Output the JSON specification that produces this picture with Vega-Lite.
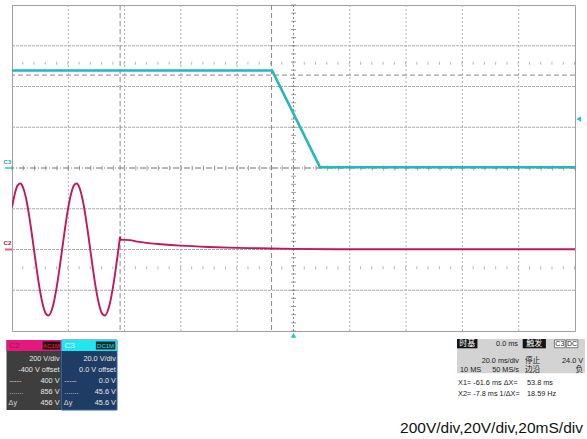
{
"$schema": "https://vega.github.io/schema/vega-lite/v6.json",
"width": 563,
"height": 326,
"autosize": {"type": "none"},
"padding": {"left": 12, "top": 5, "right": 12, "bottom": 108},
"background": "#ffffff",
"config": {"view": {"stroke": "#a0a0a0", "strokeWidth": 1}},
"resolve": {"scale": {"y": "independent"}},
"layer": [
{
"layer": [
{"data": {"values": [{"t":-80},{"t":-60},{"t":-40},{"t":-20},{"t":20},{"t":40},{"t":60},{"t":80}]},
 "mark": {"type": "rule", "color": "#b0b0b0", "strokeWidth": 1, "strokeDash": [2, 2]},
 "encoding": {"x": {"field":"t","type":"quantitative","scale":{"domain":[-100,100],"nice":false,"zero":false},"axis":null}}},
{"data": {"values": [{"d":-3},{"d":-2},{"d":-1},{"d":1},{"d":2},{"d":3}]},
 "mark": {"type": "rule", "color": "#ababab", "strokeWidth": 1, "strokeDash": [3, 1]},
 "encoding": {"y": {"field":"d","type":"quantitative","scale":{"domain":[-4,4],"nice":false,"zero":false},"axis":null}}},
{"data": {"values": [{"t":0}]},
 "mark": {"type": "rule", "color": "#888888", "strokeWidth": 1, "strokeDash": [2, 2]},
 "encoding": {"x": {"field":"t","type":"quantitative","scale":{"domain":[-100,100],"nice":false,"zero":false},"axis":null}}},
{"data": {"values": [{"d":0}]},
 "mark": {"type": "rule", "color": "#707070", "strokeWidth": 1, "strokeDash": [6, 2, 1, 2]},
 "encoding": {"y": {"field":"d","type":"quantitative","scale":{"domain":[-4,4],"nice":false,"zero":false},"axis":null}}},
{"data": {"values": [{"t":-100},{"t":-96},{"t":-92},{"t":-88},{"t":-84},{"t":-80},{"t":-76},{"t":-72},{"t":-68},{"t":-64},{"t":-60},{"t":-56},{"t":-52},{"t":-48},{"t":-44},{"t":-40},{"t":-36},{"t":-32},{"t":-28},{"t":-24},{"t":-20},{"t":-16},{"t":-12},{"t":-8},{"t":-4},{"t":0},{"t":4},{"t":8},{"t":12},{"t":16},{"t":20},{"t":24},{"t":28},{"t":32},{"t":36},{"t":40},{"t":44},{"t":48},{"t":52},{"t":56},{"t":60},{"t":64},{"t":68},{"t":72},{"t":76},{"t":80},{"t":84},{"t":88},{"t":92},{"t":96},{"t":100}]},
 "mark": {"type": "tick", "orient": "vertical", "size": 5, "thickness": 1, "color": "#7a7a7a"},
 "encoding": {"x": {"field":"t","type":"quantitative","scale":{"domain":[-100,100],"nice":false,"zero":false},"axis":null},
              "y": {"datum": 0, "type":"quantitative","scale":{"domain":[-4,4],"nice":false,"zero":false},"axis":null}}},
{"data": {"values": [{"d":-4},{"d":-3.8},{"d":-3.6},{"d":-3.4},{"d":-3.2},{"d":-3},{"d":-2.8},{"d":-2.6},{"d":-2.4},{"d":-2.2},{"d":-2},{"d":-1.8},{"d":-1.6},{"d":-1.4},{"d":-1.2},{"d":-1},{"d":-0.8},{"d":-0.6},{"d":-0.4},{"d":-0.2},{"d":0},{"d":0.2},{"d":0.4},{"d":0.6},{"d":0.8},{"d":1},{"d":1.2},{"d":1.4},{"d":1.6},{"d":1.8},{"d":2},{"d":2.2},{"d":2.4},{"d":2.6},{"d":2.8},{"d":3},{"d":3.2},{"d":3.4},{"d":3.6},{"d":3.8},{"d":4}]},
 "mark": {"type": "tick", "orient": "horizontal", "size": 5, "thickness": 1, "color": "#7a7a7a"},
 "encoding": {"x": {"datum": 0, "type":"quantitative","scale":{"domain":[-100,100],"nice":false,"zero":false},"axis":null},
              "y": {"field":"d","type":"quantitative","scale":{"domain":[-4,4],"nice":false,"zero":false},"axis":null}}},
{"data": {"values": [{"d":2.57},{"d":-2.45}]},
 "mark": {"type": "rule", "color": "#b8b8b8", "strokeWidth": 3, "strokeDash": [1, 10.26]},
 "encoding": {"y": {"field":"d","type":"quantitative","scale":{"domain":[-4,4],"nice":false,"zero":false},"axis":null}}},
{"data": {"values": [{"t":-61.6},{"t":-7.8}]},
 "mark": {"type": "rule", "color": "#8a8a8a", "strokeWidth": 1, "strokeDash": [5, 3]},
 "encoding": {"x": {"field":"t","type":"quantitative","scale":{"domain":[-100,100],"nice":false,"zero":false},"axis":null}}},
{"data": {"values": [{"t":0,"d":-4.11}]},
 "mark": {"type": "point", "shape": "triangle-up", "filled": true, "size": 30, "color": "#19c6d0", "opacity": 1},
 "encoding": {"x": {"field":"t","type":"quantitative","scale":{"domain":[-100,100],"nice":false,"zero":false},"axis":null},
              "y": {"field":"d","type":"quantitative","scale":{"domain":[-4,4],"nice":false,"zero":false},"axis":null}}},
{"data": {"values": [{"t1":-101.95,"t2":-82.42,"d1":-4.221,"d2":-5.939}]},
 "mark": {"type": "rect", "color": "#3e3e3e"},
 "encoding": {"x": {"field":"t1","type":"quantitative","scale":{"domain":[-100,100],"nice":false,"zero":false},"axis":null},"x2":{"field":"t2"},
              "y": {"field":"d1","type":"quantitative","scale":{"domain":[-4,4],"nice":false,"zero":false},"axis":null},"y2":{"field":"d2"}}},
{"data": {"values": [{"t1":-82.42,"t2":-62.7,"d1":-4.221,"d2":-5.939}]},
 "mark": {"type": "rect", "fill": "#1f3d64", "stroke": "#2c64ae", "strokeWidth": 1},
 "encoding": {"x": {"field":"t1","type":"quantitative","scale":{"domain":[-100,100],"nice":false,"zero":false},"axis":null},"x2":{"field":"t2"},
              "y": {"field":"d1","type":"quantitative","scale":{"domain":[-4,4],"nice":false,"zero":false},"axis":null},"y2":{"field":"d2"}}},
{"data": {"values": [{"t1":-101.95,"t2":-82.42,"d1":-4.221,"d2":-4.491}]},
 "mark": {"type": "rect", "color": "#e6187d"},
 "encoding": {"x": {"field":"t1","type":"quantitative","scale":{"domain":[-100,100],"nice":false,"zero":false},"axis":null},"x2":{"field":"t2"},
              "y": {"field":"d1","type":"quantitative","scale":{"domain":[-4,4],"nice":false,"zero":false},"axis":null},"y2":{"field":"d2"}}},
{"data": {"values": [{"t1":-82.42,"t2":-62.7,"d1":-4.221,"d2":-4.491}]},
 "mark": {"type": "rect", "color": "#1fe6ef"},
 "encoding": {"x": {"field":"t1","type":"quantitative","scale":{"domain":[-100,100],"nice":false,"zero":false},"axis":null},"x2":{"field":"t2"},
              "y": {"field":"d1","type":"quantitative","scale":{"domain":[-4,4],"nice":false,"zero":false},"axis":null},"y2":{"field":"d2"}}},
{"data": {"values": [{"t1":-89.1,"t2":-82.9,"d1":-4.258,"d2":-4.454}]},
 "mark": {"type": "rect", "color": "#2a0b12"},
 "encoding": {"x": {"field":"t1","type":"quantitative","scale":{"domain":[-100,100],"nice":false,"zero":false},"axis":null},"x2":{"field":"t2"},
              "y": {"field":"d1","type":"quantitative","scale":{"domain":[-4,4],"nice":false,"zero":false},"axis":null},"y2":{"field":"d2"}}},
{"data": {"values": [{"t1":-70.2,"t2":-63.3,"d1":-4.258,"d2":-4.454}]},
 "mark": {"type": "rect", "color": "#0c2c2e"},
 "encoding": {"x": {"field":"t1","type":"quantitative","scale":{"domain":[-100,100],"nice":false,"zero":false},"axis":null},"x2":{"field":"t2"},
              "y": {"field":"d1","type":"quantitative","scale":{"domain":[-4,4],"nice":false,"zero":false},"axis":null},"y2":{"field":"d2"}}},
{"data": {"values": [{"t":-83.1,"d":-4.699,"s":"200 V/div"},{"t":-83.1,"d":-4.945,"s":"-400 V offset"},{"t":-83.1,"d":-5.215,"s":"400 V"},{"t":-83.1,"d":-5.485,"s":"856 V"},{"t":-83.1,"d":-5.779,"s":"456 V"},{"t":-63.1,"d":-4.699,"s":"20.0 V/div"},{"t":-63.1,"d":-4.945,"s":"0.0 V offset"},{"t":-63.1,"d":-5.215,"s":"0.0 V"},{"t":-63.1,"d":-5.485,"s":"45.6 V"},{"t":-63.1,"d":-5.779,"s":"45.6 V"}]},
 "mark": {"type": "text", "align": "right", "baseline": "middle", "font": "Liberation Sans, Arial, sans-serif", "fontSize": 7.3, "color": "#e6e6e6"},
 "encoding": {"x": {"field":"t","type":"quantitative","scale":{"domain":[-100,100],"nice":false,"zero":false},"axis":null},
              "y": {"field":"d","type":"quantitative","scale":{"domain":[-4,4],"nice":false,"zero":false},"axis":null},
              "text": {"field":"s","type":"nominal"}}},
{"data": {"values": [{"t":-101.0,"d":-5.215,"s":"-----"},{"t":-101.0,"d":-5.485,"s":"......."},{"t":-101.2,"d":-5.779,"s":"Δy"},{"t":-81.4,"d":-5.215,"s":"-----"},{"t":-81.4,"d":-5.485,"s":"......."},{"t":-81.6,"d":-5.779,"s":"Δy"}]},
 "mark": {"type": "text", "align": "left", "baseline": "middle", "font": "Liberation Sans, Arial, sans-serif", "fontSize": 7.3, "color": "#d8d8d8"},
 "encoding": {"x": {"field":"t","type":"quantitative","scale":{"domain":[-100,100],"nice":false,"zero":false},"axis":null},
              "y": {"field":"d","type":"quantitative","scale":{"domain":[-4,4],"nice":false,"zero":false},"axis":null},
              "text": {"field":"s","type":"nominal"}}},
{"data": {"values": [{"t":-101.0,"d":-4.356,"s":"C2"}]},
 "mark": {"type": "text", "align": "left", "baseline": "middle", "font": "Liberation Sans, Arial, sans-serif", "fontSize": 8, "color": "#a8104a"},
 "encoding": {"x": {"field":"t","type":"quantitative","scale":{"domain":[-100,100],"nice":false,"zero":false},"axis":null},
              "y": {"field":"d","type":"quantitative","scale":{"domain":[-4,4],"nice":false,"zero":false},"axis":null},
              "text": {"field":"s","type":"nominal"}}},
{"data": {"values": [{"t":-81.35,"d":-4.356,"s":"C3"}]},
 "mark": {"type": "text", "align": "left", "baseline": "middle", "font": "Liberation Sans, Arial, sans-serif", "fontSize": 8, "color": "#f0ffff"},
 "encoding": {"x": {"field":"t","type":"quantitative","scale":{"domain":[-100,100],"nice":false,"zero":false},"axis":null},
              "y": {"field":"d","type":"quantitative","scale":{"domain":[-4,4],"nice":false,"zero":false},"axis":null},
              "text": {"field":"s","type":"nominal"}}},
{"data": {"values": [{"t":-86.0,"d":-4.356,"s":"AC1M"}]},
 "mark": {"type": "text", "align": "center", "baseline": "middle", "font": "Liberation Sans, Arial, sans-serif", "fontSize": 6, "color": "#e8283f"},
 "encoding": {"x": {"field":"t","type":"quantitative","scale":{"domain":[-100,100],"nice":false,"zero":false},"axis":null},
              "y": {"field":"d","type":"quantitative","scale":{"domain":[-4,4],"nice":false,"zero":false},"axis":null},
              "text": {"field":"s","type":"nominal"}}},
{"data": {"values": [{"t":-66.75,"d":-4.356,"s":"DC1M"}]},
 "mark": {"type": "text", "align": "center", "baseline": "middle", "font": "Liberation Sans, Arial, sans-serif", "fontSize": 6, "color": "#2ee0e4"},
 "encoding": {"x": {"field":"t","type":"quantitative","scale":{"domain":[-100,100],"nice":false,"zero":false},"axis":null},
              "y": {"field":"d","type":"quantitative","scale":{"domain":[-4,4],"nice":false,"zero":false},"axis":null},
              "text": {"field":"s","type":"nominal"}}},
{"data": {"values": [{"t1":58.08,"t2":103.55,"d1":-4.196,"d2":-5.038}]},
 "mark": {"type": "rect", "color": "#d3d3d3"},
 "encoding": {"x": {"field":"t1","type":"quantitative","scale":{"domain":[-100,100],"nice":false,"zero":false},"axis":null},"x2":{"field":"t2"},
              "y": {"field":"d1","type":"quantitative","scale":{"domain":[-4,4],"nice":false,"zero":false},"axis":null},"y2":{"field":"d2"}}},
{"data": {"values": [{"t1":58.08,"t2":65.34,"d1":-4.196,"d2":-4.425},{"t1":81.42,"t2":89.66,"d1":-4.196,"d2":-4.425}]},
 "mark": {"type": "rect", "color": "#141414"},
 "encoding": {"x": {"field":"t1","type":"quantitative","scale":{"domain":[-100,100],"nice":false,"zero":false},"axis":null},"x2":{"field":"t2"},
              "y": {"field":"d1","type":"quantitative","scale":{"domain":[-4,4],"nice":false,"zero":false},"axis":null},"y2":{"field":"d2"}}},
{"data": {"values": [{"t1":92.7,"t2":96.5,"d1":-4.22,"d2":-4.41},{"t1":96.9,"t2":101.0,"d1":-4.22,"d2":-4.41}]},
 "mark": {"type": "rect", "fill": "#ffffff", "stroke": "#333333", "strokeWidth": 0.6},
 "encoding": {"x": {"field":"t1","type":"quantitative","scale":{"domain":[-100,100],"nice":false,"zero":false},"axis":null},"x2":{"field":"t2"},
              "y": {"field":"d1","type":"quantitative","scale":{"domain":[-4,4],"nice":false,"zero":false},"axis":null},"y2":{"field":"d2"}}},
{"data": {"values": [{"t":79.75,"d":-4.319,"s":"0.0 ms"},{"t":80.1,"d":-4.724,"s":"20.0 ms/div"},{"t":80.1,"d":-4.957,"s":"50 MS/s"},{"t":102.9,"d":-4.724,"s":"24.0 V"}]},
 "mark": {"type": "text", "align": "right", "baseline": "middle", "font": "Liberation Sans, Arial, sans-serif", "fontSize": 7.3, "color": "#1a1a1a"},
 "encoding": {"x": {"field":"t","type":"quantitative","scale":{"domain":[-100,100],"nice":false,"zero":false},"axis":null},
              "y": {"field":"d","type":"quantitative","scale":{"domain":[-4,4],"nice":false,"zero":false},"axis":null},
              "text": {"field":"s","type":"nominal"}}},
{"data": {"values": [{"t":59.15,"d":-4.957,"s":"10 MS"},{"t":58.44,"d":-5.264,"s":"X1= -61.6 ms ΔX="},{"t":82.95,"d":-5.264,"s":"53.8 ms"},{"t":58.44,"d":-5.546,"s":"X2= -7.8 ms  1/ΔX="},{"t":82.95,"d":-5.546,"s":"18.59 Hz"}]},
 "mark": {"type": "text", "align": "left", "baseline": "middle", "font": "Liberation Sans, Arial, sans-serif", "fontSize": 7.3, "color": "#1a1a1a"},
 "encoding": {"x": {"field":"t","type":"quantitative","scale":{"domain":[-100,100],"nice":false,"zero":false},"axis":null},
              "y": {"field":"d","type":"quantitative","scale":{"domain":[-4,4],"nice":false,"zero":false},"axis":null},
              "text": {"field":"s","type":"nominal"}}},
{"data": {"values": [{"t":94.6,"d":-4.319,"s":"C3"},{"t":98.95,"d":-4.319,"s":"DC"}]},
 "mark": {"type": "text", "align": "center", "baseline": "middle", "font": "Liberation Sans, Arial, sans-serif", "fontSize": 7, "color": "#1a1a1a"},
 "encoding": {"x": {"field":"t","type":"quantitative","scale":{"domain":[-100,100],"nice":false,"zero":false},"axis":null},
              "y": {"field":"d","type":"quantitative","scale":{"domain":[-4,4],"nice":false,"zero":false},"axis":null},
              "text": {"field":"s","type":"nominal"}}},
{"data": {"values": [{"t":61.7,"d":-4.319,"s":"时基"},{"t":85.5,"d":-4.319,"s":"触发"}]},
 "mark": {"type": "text", "align": "center", "baseline": "middle", "font": "Noto Sans CJK SC", "fontSize": 8, "color": "#ffffff"},
 "encoding": {"x": {"field":"t","type":"quantitative","scale":{"domain":[-100,100],"nice":false,"zero":false},"axis":null},
              "y": {"field":"d","type":"quantitative","scale":{"domain":[-4,4],"nice":false,"zero":false},"axis":null},
              "text": {"field":"s","type":"nominal"}}},
{"data": {"values": [{"t":82.24,"d":-4.724,"s":"停止"},{"t":82.24,"d":-4.957,"s":"边沿"}]},
 "mark": {"type": "text", "align": "left", "baseline": "middle", "font": "Noto Sans CJK SC", "fontSize": 7.6, "color": "#1a1a1a"},
 "encoding": {"x": {"field":"t","type":"quantitative","scale":{"domain":[-100,100],"nice":false,"zero":false},"axis":null},
              "y": {"field":"d","type":"quantitative","scale":{"domain":[-4,4],"nice":false,"zero":false},"axis":null},
              "text": {"field":"s","type":"nominal"}}},
{"data": {"values": [{"t":102.9,"d":-4.957,"s":"负"}]},
 "mark": {"type": "text", "align": "right", "baseline": "middle", "font": "Noto Sans CJK SC", "fontSize": 7.6, "color": "#1a1a1a"},
 "encoding": {"x": {"field":"t","type":"quantitative","scale":{"domain":[-100,100],"nice":false,"zero":false},"axis":null},
              "y": {"field":"d","type":"quantitative","scale":{"domain":[-4,4],"nice":false,"zero":false},"axis":null},
              "text": {"field":"s","type":"nominal"}}},
{"data": {"values": [{"t":102.84,"d":-6.38,"s":"200V/div,20V/div,20mS/div"}]},
 "mark": {"type": "text", "align": "right", "baseline": "middle", "font": "Liberation Sans, Arial, sans-serif", "fontSize": 15.5, "color": "#111111"},
 "encoding": {"x": {"field":"t","type":"quantitative","scale":{"domain":[-100,100],"nice":false,"zero":false},"axis":null},
              "y": {"field":"d","type":"quantitative","scale":{"domain":[-4,4],"nice":false,"zero":false},"axis":null},
              "text": {"field":"s","type":"nominal"}}}
]
},
{
"layer": [
{"data": {"values": [
{"t":-100,"v":207},{"t":-99,"v":274},{"t":-98,"v":315},{"t":-97,"v":324},{"t":-96,"v":302},{"t":-95,"v":250},{"t":-94,"v":174},{"t":-93,"v":81},{"t":-92,"v":-20},{"t":-91,"v":-120},
{"t":-90,"v":-207},{"t":-89,"v":-274},{"t":-88,"v":-315},{"t":-87,"v":-324},{"t":-86,"v":-302},{"t":-85,"v":-250},{"t":-84,"v":-174},{"t":-83,"v":-81},{"t":-82,"v":20},{"t":-81,"v":120},
{"t":-80,"v":207},{"t":-79,"v":274},{"t":-78,"v":315},{"t":-77,"v":324},{"t":-76,"v":302},{"t":-75,"v":250},{"t":-74,"v":174},{"t":-73,"v":81},{"t":-72,"v":-20},{"t":-71,"v":-120},
{"t":-70,"v":-207},{"t":-69,"v":-274},{"t":-68,"v":-315},{"t":-67,"v":-324},{"t":-66,"v":-302},{"t":-65,"v":-250},{"t":-64,"v":-174},{"t":-63,"v":-81},{"t":-62,"v":20},{"t":-61.6,"v":61},
{"t":-61.3,"v":48},{"t":-58,"v":46},{"t":-56,"v":40},{"t":-53,"v":34},{"t":-47,"v":26},{"t":-40,"v":19},{"t":-30,"v":12.5},{"t":-20,"v":8},{"t":-12,"v":6},{"t":0,"v":3},{"t":15,"v":1.5},{"t":100,"v":1.5}
]},
 "mark": {"type": "line", "color": "#c0185f", "strokeWidth": 1.9, "interpolate": "monotone", "clip": true},
 "encoding": {"x": {"field":"t","type":"quantitative","scale":{"domain":[-100,100],"nice":false,"zero":false},"axis":null},
              "y": {"field":"v","type":"quantitative","scale":{"domain":[-400,1200],"nice":false,"zero":false},"axis":null}}},
{"data": {"values": [{"t":-101.25,"v":0}]},
 "mark": {"type": "tick", "orient": "horizontal", "size": 7, "thickness": 2, "color": "#d01a6a"},
 "encoding": {"x": {"field":"t","type":"quantitative","scale":{"domain":[-100,100],"nice":false,"zero":false},"axis":null},
              "y": {"field":"v","type":"quantitative","scale":{"domain":[-400,1200],"nice":false,"zero":false},"axis":null}}},
{"data": {"values": [{"t":-103.0,"v":32,"s":"C2"}]},
 "mark": {"type": "text", "align": "left", "baseline": "middle", "font": "Liberation Sans, Arial, sans-serif", "fontSize": 6, "fontWeight": "bold", "color": "#b0124e"},
 "encoding": {"x": {"field":"t","type":"quantitative","scale":{"domain":[-100,100],"nice":false,"zero":false},"axis":null},
              "y": {"field":"v","type":"quantitative","scale":{"domain":[-400,1200],"nice":false,"zero":false},"axis":null},
              "text": {"field":"s","type":"nominal"}}}
]
},
{
"layer": [
{"data": {"values": [{"v":45.6}]},
 "mark": {"type": "rule", "color": "#8a8a8a", "strokeWidth": 1, "strokeDash": [5, 3]},
 "encoding": {"y": {"field":"v","type":"quantitative","scale":{"domain":[-80,80],"nice":false,"zero":false},"axis":null}}},
{"data": {"values": [{"t":-100,"v":47.85},{"t":-7.6,"v":47.85},{"t":9.4,"v":0.4},{"t":100,"v":0.4}]},
 "mark": {"type": "line", "color": "#24b8bc", "strokeWidth": 2.6, "clip": true},
 "encoding": {"x": {"field":"t","type":"quantitative","scale":{"domain":[-100,100],"nice":false,"zero":false},"axis":null},
              "y": {"field":"v","type":"quantitative","scale":{"domain":[-80,80],"nice":false,"zero":false},"axis":null}}},
{"data": {"values": [{"t":-101.25,"v":0}]},
 "mark": {"type": "tick", "orient": "horizontal", "size": 7, "thickness": 2, "color": "#1fc0c8"},
 "encoding": {"x": {"field":"t","type":"quantitative","scale":{"domain":[-100,100],"nice":false,"zero":false},"axis":null},
              "y": {"field":"v","type":"quantitative","scale":{"domain":[-80,80],"nice":false,"zero":false},"axis":null}}},
{"data": {"values": [{"t":-103.0,"v":2.7,"s":"C3"}]},
 "mark": {"type": "text", "align": "left", "baseline": "middle", "font": "Liberation Sans, Arial, sans-serif", "fontSize": 6, "fontWeight": "bold", "color": "#1aa8b0"},
 "encoding": {"x": {"field":"t","type":"quantitative","scale":{"domain":[-100,100],"nice":false,"zero":false},"axis":null},
              "y": {"field":"v","type":"quantitative","scale":{"domain":[-80,80],"nice":false,"zero":false},"axis":null},
              "text": {"field":"s","type":"nominal"}}},
{"data": {"values": [{"t":101.3,"v":24}]},
 "mark": {"type": "point", "shape": "triangle-left", "filled": true, "size": 30, "color": "#19c6d0", "opacity": 1},
 "encoding": {"x": {"field":"t","type":"quantitative","scale":{"domain":[-100,100],"nice":false,"zero":false},"axis":null},
              "y": {"field":"v","type":"quantitative","scale":{"domain":[-80,80],"nice":false,"zero":false},"axis":null}}}
]
}
]
}
